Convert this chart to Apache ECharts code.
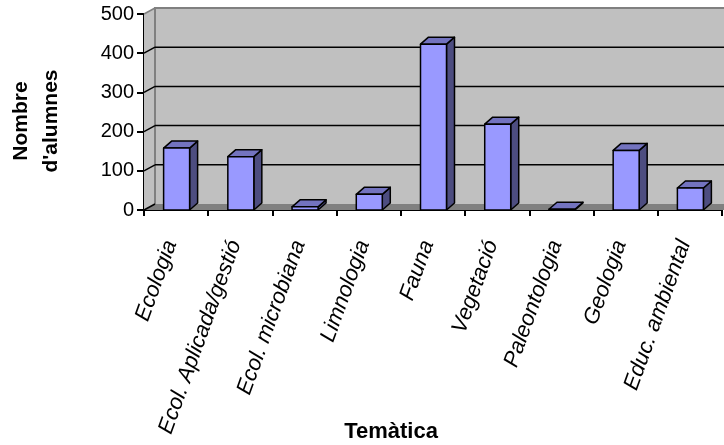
<!DOCTYPE html>
<html><head><meta charset="utf-8">
<style>html,body{margin:0;padding:0;background:#fff}#c{width:724px;height:445px}</style>
<script src="https://cdn.jsdelivr.net/npm/echarts@6/dist/echarts.min.js"></script>
</head><body><div id="c"></div>
<script>
const categories = ["Ecologia","Ecol. Aplicada/gestió","Ecol. microbiana","Limnologia","Fauna","Vegetació","Paleontologia","Geologia","Educ. ambiental"];
const values = [158,136,8,40,423,219,2,152,56];
const ticks = [0,100,200,300,400,500];
const DX = 11, DY = 6, BAR = 26, BDX = 8, BDY = 7;
const chart = echarts.init(document.getElementById('c'), null, {renderer:'canvas'});
function pts(a){return {points:a};}
chart.setOption({
  animation:false,
  backgroundColor:'#fff',
  grid:{left:144,right:2,top:14,bottom:235,containLabel:false,outerBoundsMode:'none'},
  xAxis:{type:'category',data:categories,boundaryGap:true,
    name:'Temàtica',nameLocation:'middle',nameGap:211,nameMoveOverlap:false,
    nameTextStyle:{fontFamily:'Liberation Sans',fontWeight:'bold',fontSize:22,color:'#000',padding:[0,84,0,0]},
    axisLine:{show:true,lineStyle:{color:'#000',width:2}},
    axisTick:{show:true,alignWithLabel:false,length:6,lineStyle:{color:'#000',width:2}},
    axisLabel:{interval:0,rotate:70,margin:33,verticalAlign:'bottom',lineHeight:11,fontFamily:'Liberation Sans',fontStyle:'italic',fontSize:22,color:'#000'}},
  yAxis:{type:'value',min:0,max:500,interval:100,
    name:"Nombre\nd'alumnes",nameLocation:'middle',nameGap:78,nameRotate:90,nameMoveOverlap:false,
    nameTextStyle:{fontFamily:'Liberation Sans',fontWeight:'bold',fontSize:21,color:'#000',lineHeight:30,padding:[0,18,0,0]},
    splitLine:{show:false},
    axisLine:{show:true,lineStyle:{color:'#000',width:2}},
    axisTick:{show:true,length:7,lineStyle:{color:'#000',width:2}},
    axisLabel:{margin:10,fontFamily:'Liberation Sans',fontSize:20,color:'#000'}},
  series:[
    {type:'custom',coordinateSystem:'cartesian2d',silent:true,z:1,clip:false,data:[[0,0]],
     encode:{x:0,y:1},
     renderItem:function(p,api){
       const g=p.coordSys, L=g.x,R=g.x+g.width,T=g.y,B=g.y+g.height;
       const ch=[
         {type:'polygon',shape:pts([[L+DX,T-DY],[R+2,T-DY],[R+2,B-DY],[L+DX,B-DY]]),style:{fill:'#c0c0c0',stroke:null}},
         {type:'polygon',shape:pts([[L,T],[L+DX,T-DY],[L+DX,B-DY],[L,B]]),style:{fill:'#c0c0c0',stroke:null}},
         {type:'polygon',shape:pts([[L,B],[L+DX,B-DY],[R+2,B-DY],[R+2,B]]),style:{fill:'#808080',stroke:null}},
         {type:'polyline',shape:pts([[L+DX,B-DY],[L+DX,T-DY],[R+2,T-DY]]),style:{fill:null,stroke:'#808080',lineWidth:2}}
       ];
       ticks.forEach(t=>{
         const y=api.coord([0,t])[1];
         if(t>0&&t<500) ch.push({type:'line',shape:{x1:L+DX,y1:y-DY,x2:R+2,y2:y-DY},style:{stroke:'#000',lineWidth:1.5}});
         if(t<500) ch.push({type:'line',shape:{x1:L,y1:y,x2:L+DX,y2:y-DY},style:{stroke:'#000',lineWidth:1.5}});
         else ch.push({type:'line',shape:{x1:L,y1:y,x2:L+DX,y2:y-DY},style:{stroke:'#808080',lineWidth:1.5}});
       });
       return {type:'group',children:ch};
     }},
    {type:'custom',coordinateSystem:'cartesian2d',silent:true,z:3,clip:false,
     data:values.map((v,i)=>[i,v]),encode:{x:0,y:1},
     renderItem:function(p,api){
       const c=api.coord([api.value(0),api.value(1)]), b=api.coord([api.value(0),0]);
       const x0=c[0]-BAR/2+0.5,x1=x0+BAR,yT=c[1],yB=b[1];
       const st={stroke:'#000',lineWidth:1.5,lineJoin:'round'};
       return {type:'group',children:[
         {type:'polygon',shape:pts([[x1,yT],[x1+BDX,yT-BDY],[x1+BDX,yB-BDY],[x1,yB]]),style:Object.assign({fill:'#4d4d80'},st)},
         {type:'polygon',shape:pts([[x0,yT],[x0+BDX,yT-BDY],[x1+BDX,yT-BDY],[x1,yT]]),style:Object.assign({fill:'#7373bf'},st)},
         {type:'rect',shape:{x:x0,y:yT,width:BAR,height:yB-yT},style:Object.assign({fill:'#9999ff'},st)}
       ]};
     }}
  ]
});
</script></body></html>
